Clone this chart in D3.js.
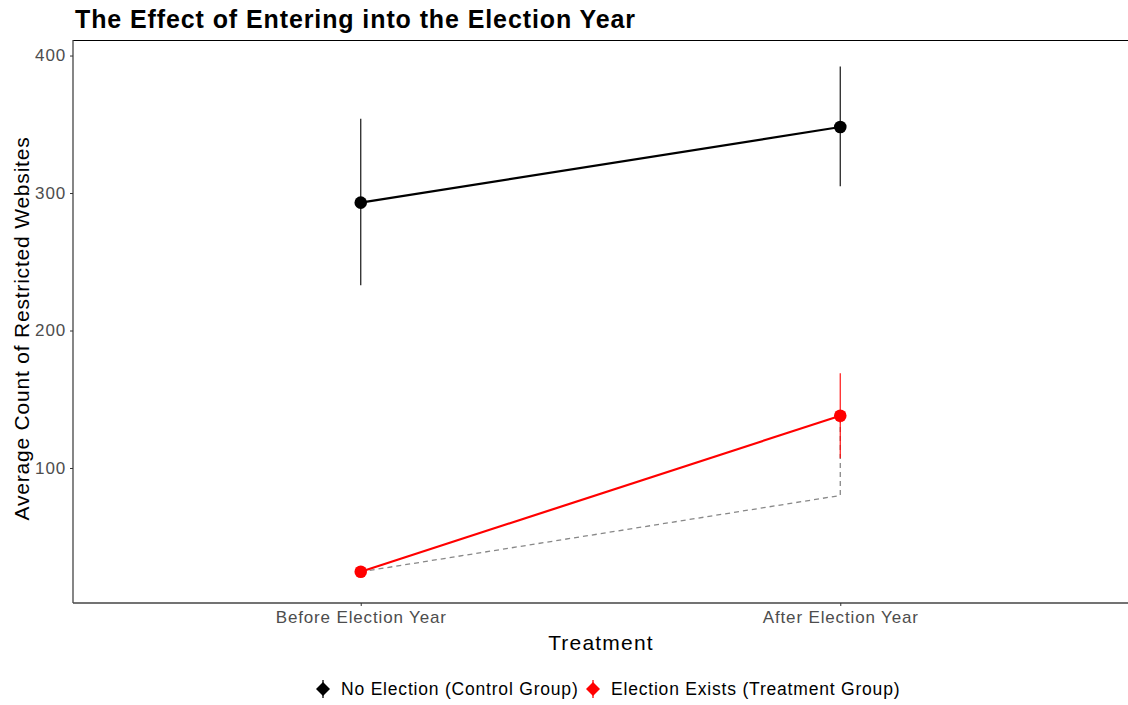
<!DOCTYPE html>
<html>
<head>
<meta charset="utf-8">
<script src="https://cdn.jsdelivr.net/npm/d3@7"></script>
<style>
  body { margin: 0; background: #fff; }
  svg { display: block; font-family: "Liberation Sans", Arial, sans-serif; }
</style>
</head>
<body>
<svg id="chart" width="1128" height="705"></svg>
<script>
// Periods on the x axis
const periods = ["Before Election Year", "After Election Year"];

// Group means with lower / upper bounds of the intervals
const controlMean  = [293, 348];
const controlLow   = [233, 305];
const controlHigh  = [354, 392];

const treatedMean  = [24.5, 138];
const treatedLow   = [21, 107];
const treatedHigh  = [28, 169];

// Counterfactual path for the treatment group (parallel-trend projection)
const counterfactual = [24.5, 80];

const yTicks = [100, 200, 300, 400];
const groupNames = ["No Election (Control Group)", "Election Exists (Treatment Group)"];
const groupColors = ["#000000", "#ff0000"];

const svg = d3.select("#chart");
const margin = { left: 73, right: 0, top: 40, bottom: 102 };
const W = 1128, H = 705;
const plotBottom = H - margin.bottom; // 603

const x = d3.scalePoint()
  .domain(periods)
  .range([margin.left, W - margin.right])
  .padding(0.6);

const y = d3.scaleLinear()
  .domain([1.8, 411.3])
  .range([plotBottom, margin.top]);

// Title
svg.append("text")
  .attr("x", 75).attr("y", 28)
  .attr("font-size", 25).attr("font-weight", "bold")
  .attr("letter-spacing", 0.9)
  .attr("fill", "#000")
  .text("The Effect of Entering into the Election Year");

// Top frame line
svg.append("line")
  .attr("x1", margin.left).attr("x2", W)
  .attr("y1", margin.top + 0.5).attr("y2", margin.top + 0.5)
  .attr("stroke", "#000").attr("stroke-width", 1.2);

// Axes
const yAxis = svg.append("g")
  .attr("transform", `translate(${margin.left},0)`)
  .call(d3.axisLeft(y).tickValues(yTicks).tickSize(3).tickPadding(4));
const xAxis = svg.append("g")
  .attr("transform", `translate(0,${plotBottom})`)
  .call(d3.axisBottom(x).tickSize(3).tickPadding(5));

[yAxis, xAxis].forEach(g => {
  g.select(".domain").attr("stroke", "#444").attr("stroke-width", 1.3);
  g.selectAll(".tick line").attr("stroke", "#333");
  g.selectAll(".tick text")
    .attr("fill", "#4d4d4d")
    .attr("font-size", 17)
    .attr("letter-spacing", 0.85)
    .attr("font-family", "Liberation Sans, Arial, sans-serif");
});
// Left axis line runs up to the top frame
yAxis.select(".domain").attr("d", `M0,${margin.top}V${plotBottom}`);
xAxis.select(".domain").attr("d", `M${margin.left},0H${W}`);

// Axis titles
svg.append("text")
  .attr("x", 601).attr("y", 650)
  .attr("text-anchor", "middle")
  .attr("font-size", 21).attr("letter-spacing", 1.2).attr("fill", "#000")
  .text("Treatment");

svg.append("text")
  .attr("transform", `translate(29,${(margin.top + plotBottom) / 2 + 7}) rotate(-90)`)
  .attr("text-anchor", "middle")
  .attr("font-size", 21).attr("letter-spacing", 0.8).attr("fill", "#000")
  .text("Average Count of Restricted Websites");

const plot = svg.append("g");

// Counterfactual dashed path
const cfPts = [
  [x(periods[0]), y(counterfactual[0])],
  [x(periods[1]), y(counterfactual[1])],
  [x(periods[1]), y(treatedMean[1])]
];
plot.append("path")
  .attr("d", d3.line()(cfPts))
  .attr("fill", "none")
  .attr("stroke", "#888")
  .attr("stroke-width", 1.3)
  .attr("stroke-dasharray", "5,4");

function drawGroup(mean, low, high, color) {
  const g = plot.append("g");
  g.selectAll("line.err")
    .data(periods)
    .join("line")
    .attr("class", "err")
    .attr("x1", d => x(d)).attr("x2", d => x(d))
    .attr("y1", (d, i) => y(low[i]))
    .attr("y2", (d, i) => y(high[i]))
    .attr("stroke", color)
    .attr("stroke-opacity", 0.85)
    .attr("stroke-width", 1.3);
  g.append("path")
    .attr("d", d3.line().x((d, i) => x(periods[i])).y(d => y(d))(mean))
    .attr("fill", "none")
    .attr("stroke", color)
    .attr("stroke-width", 2.2);
  g.selectAll("circle")
    .data(mean)
    .join("circle")
    .attr("cx", (d, i) => x(periods[i]))
    .attr("cy", d => y(d))
    .attr("r", 6.3)
    .attr("fill", color);
}
drawGroup(controlMean, controlLow, controlHigh, groupColors[0]);
drawGroup(treatedMean, treatedLow, treatedHigh, groupColors[1]);

// Legend
const legendKeyX = [323, 593];
const legend = svg.append("g");
groupNames.forEach((name, i) => {
  const cx = legendKeyX[i], cy = 689;
  legend.append("line")
    .attr("x1", cx).attr("x2", cx)
    .attr("y1", cy - 9).attr("y2", cy + 9)
    .attr("stroke", groupColors[i]).attr("stroke-width", 1.3);
  legend.append("path")
    .attr("d", `M${cx},${cy - 7}L${cx + 7},${cy}L${cx},${cy + 7}L${cx - 7},${cy}Z`)
    .attr("fill", groupColors[i]);
  legend.append("text")
    .attr("x", cx + 18).attr("y", cy + 6)
    .attr("font-size", 17.5).attr("letter-spacing", 0.8).attr("fill", "#000")
    .text(name);
});
</script>
</body>
</html>
